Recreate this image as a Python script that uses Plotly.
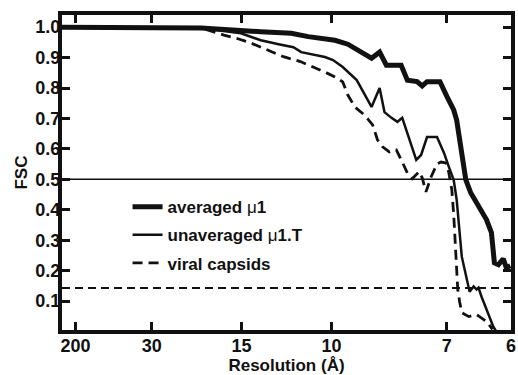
import plotly.graph_objects as go

# Spatial frequency (1/Å) and FSC values
avg_freq = [0.0, 0.0517, 0.0738, 0.0851, 0.0914, 0.1013, 0.1061, 0.1094, 0.1149, 0.1179,
            0.1204, 0.1259, 0.1282, 0.1318, 0.1337, 0.1355, 0.1403, 0.1429, 0.1454, 0.1465,
            0.1476, 0.1488, 0.1499, 0.1517, 0.1546, 0.1576, 0.1594, 0.1605, 0.1620, 0.1638,
            0.1649, 0.1664]
avg_fsc = [1.0, 0.997, 0.985, 0.980, 0.969, 0.957, 0.944, 0.925, 0.898, 0.918,
           0.875, 0.875, 0.826, 0.821, 0.807, 0.821, 0.821, 0.772, 0.728, 0.695,
           0.630, 0.554, 0.498, 0.456, 0.410, 0.367, 0.325, 0.226, 0.220, 0.239,
           0.210, 0.216]

unavg_freq = [0.0, 0.0535, 0.0664, 0.0738, 0.0804, 0.0859, 0.0888, 0.0976, 0.1006, 0.1042,
              0.1094, 0.1149, 0.1179, 0.1197, 0.1223, 0.1245, 0.1263, 0.1289, 0.1315, 0.1333,
              0.1355, 0.1392, 0.1418, 0.1436, 0.1454, 0.1465, 0.1484, 0.1513, 0.1528, 0.1539,
              0.1546, 0.1557, 0.1601, 0.1612]
unavg_fsc = [1.0, 0.995, 0.980, 0.957, 0.944, 0.934, 0.918, 0.902, 0.892, 0.869,
             0.826, 0.738, 0.800, 0.721, 0.702, 0.689, 0.702, 0.630, 0.564, 0.580,
             0.639, 0.639, 0.587, 0.541, 0.498, 0.433, 0.246, 0.131, 0.148, 0.138,
             0.144, 0.115, 0.016, 0.0]

capsid_freq = [0.0, 0.0517, 0.0601, 0.0653, 0.0701, 0.0749, 0.0822, 0.0885, 0.0932, 0.0984,
               0.1021, 0.1042, 0.1061, 0.1087, 0.1123, 0.1153, 0.1171, 0.1190, 0.1215, 0.1241,
               0.1263, 0.1282, 0.1300, 0.1326, 0.1337, 0.1351, 0.1370, 0.1392, 0.1407, 0.1425,
               0.1436, 0.1447, 0.1454, 0.1461, 0.1469, 0.1476, 0.1484, 0.1510, 0.1539, 0.1576,
               0.1598]
capsid_fsc = [1.0, 0.997, 0.974, 0.962, 0.948, 0.931, 0.903, 0.887, 0.870, 0.849,
              0.833, 0.820, 0.777, 0.738, 0.711, 0.679, 0.630, 0.607, 0.590, 0.597,
              0.557, 0.521, 0.502, 0.525, 0.505, 0.459, 0.508, 0.551, 0.557, 0.554,
              0.521, 0.466, 0.384, 0.269, 0.138, 0.098, 0.062, 0.049, 0.056, 0.033,
              0.007]

resolution_ticks = [200, 30, 15, 10, 7, 6]          # Å
fsc_ticks = [0.1, 0.2, 0.3, 0.4, 0.5, 0.6, 0.7, 0.8, 0.9, 1.0]
threshold_half = 0.5
threshold_0143 = 0.143

INK = "#111111"
FONT = "Liberation Sans, Arial, Helvetica, sans-serif"

fig = go.Figure()
fig.add_trace(go.Scatter(x=avg_freq, y=avg_fsc, mode="lines",
                         name="averaged <span style='font-weight:normal'>μ</span>1",
                         legendgroup="a",
                         line=dict(color=INK, width=5)))
fig.add_trace(go.Scatter(x=unavg_freq, y=unavg_fsc, mode="lines",
                         name="unaveraged <span style='font-weight:normal'>μ</span>1.T",
                         legendgroup="b",
                         line=dict(color=INK, width=2.5)))
fig.add_trace(go.Scatter(x=capsid_freq, y=capsid_fsc, mode="lines",
                         name="viral capsids",
                         legendgroup="c",
                         line=dict(color=INK, width=2.8, dash="10px,6px")))

fig.add_hline(y=threshold_half, line=dict(color=INK, width=1.5), layer="below")
fig.add_hline(y=threshold_0143, line=dict(color=INK, width=2, dash="8px,5px"), layer="below")

fig.update_layout(
    template="none",
    width=518, height=375,
    margin=dict(l=62, r=7, t=15, b=45, pad=0),
    paper_bgcolor="white", plot_bgcolor="white",
    font=dict(family=FONT, size=18, color=INK, weight="bold"),
    showlegend=True,
    legend=dict(x=0.146, y=0.447, xanchor="left", yanchor="top",
                bgcolor="rgba(0,0,0,0)", borderwidth=0, itemwidth=30, tracegroupgap=3,
                font=dict(family=FONT, size=17, color=INK, weight="bold")),
    xaxis=dict(range=[0, 1 / 6], automargin=False,
               tickvals=[1 / r for r in resolution_ticks],
               ticktext=[str(r) for r in resolution_ticks],
               ticks="inside", ticklen=8, tickwidth=3, tickcolor=INK,
               showline=True, linewidth=4, linecolor=INK, mirror="allticks",
               showgrid=False, zeroline=False, ticklabelstandoff=-4,
               tickfont=dict(family=FONT, size=18, color=INK, weight="bold"),
               title=dict(text="Resolution (Å)", standoff=4,
                          font=dict(family=FONT, size=17, color=INK, weight="bold"))),
    yaxis=dict(range=[0.005, 1.04], automargin=False,
               tickvals=fsc_ticks,
               ticktext=[f"{v:.1f}" for v in fsc_ticks],
               ticks="inside", ticklen=8, tickwidth=3, tickcolor=INK,
               showline=True, linewidth=4, linecolor=INK, mirror="allticks",
               showgrid=False, zeroline=False, ticklabelstandoff=-6,
               tickfont=dict(family=FONT, size=18, color=INK, weight="bold"),
               title=dict(text="FSC", standoff=4,
                          font=dict(family=FONT, size=17, color=INK, weight="bold"))),
)

fig.write_html("out.html", config={"displayModeBar": False},
               post_script="document.body.style.margin='0px';")
